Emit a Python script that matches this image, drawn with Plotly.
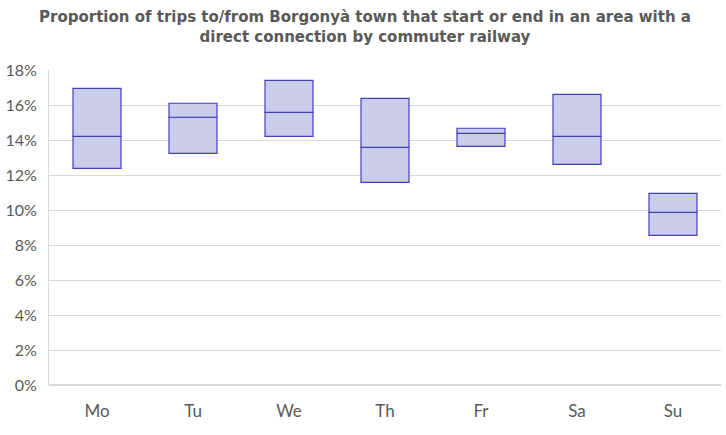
import plotly.graph_objects as go

days = ["Mo", "Tu", "We", "Th", "Fr", "Sa", "Su"]
mins = [12.38, 13.24, 14.21, 11.58, 13.64, 12.61, 8.55]
medians = [14.21, 15.30, 15.58, 13.58, 14.38, 14.21, 9.87]
maxs = [16.95, 16.10, 17.41, 16.38, 14.67, 16.61, 10.95]

title_text = ("<b>Proportion of trips to/from Borgonyà town that start or end in an area with a"
              "<br>direct connection by commuter railway</b>")

fill = "#CBCCEA"
edge = "#4141B0"

fig = go.Figure()
fig.add_trace(go.Bar(
    x=days, base=[m / 100 for m in mins],
    y=[(md - m) / 100 for md, m in zip(medians, mins)],
    marker=dict(color=fill, line=dict(color=edge, width=1.2)),
    width=0.5, hoverinfo="skip", showlegend=False))
fig.add_trace(go.Bar(
    x=days, base=[md / 100 for md in medians],
    y=[(mx - md) / 100 for mx, md in zip(maxs, medians)],
    marker=dict(color=fill, line=dict(color=edge, width=1.2)),
    width=0.5, hoverinfo="skip", showlegend=False))

fig.add_annotation(
    text=title_text, xref="paper", yref="paper",
    x=(363 - 45) / 676, xanchor="center", y=1 + 64 / 315, yanchor="top",
    showarrow=False, align="center",
    font=dict(size=15, color="#595959",
              family="'DejaVu Sans', sans-serif"))

fig.update_layout(
    width=726, height=435,
    barmode="overlay",
    paper_bgcolor="white", plot_bgcolor="white",
    margin=dict(l=45, r=5, t=70, b=50),
    font=dict(family="Lato, 'DejaVu Sans', sans-serif", color="#595959"),
    xaxis=dict(showgrid=False, showline=False, ticks="",
               ticklabelstandoff=14,
               tickfont=dict(size=17, color="#595959")),
    yaxis=dict(range=[0, 0.18], dtick=0.02, tickformat=".0%",
               showgrid=True, gridcolor="#D9D9D9", gridwidth=1,
               showline=True, linecolor="#D9D9D9", linewidth=1,
               zeroline=True, zerolinecolor="#D9D9D9",
               ticks="", ticklabelstandoff=8,
               tickfont=dict(size=16, color="#595959")),
)

fig.write_html("out.html")
